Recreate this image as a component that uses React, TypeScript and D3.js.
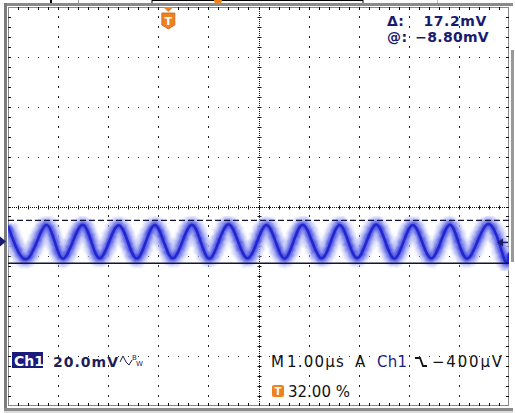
import React from 'react';
import * as d3 from 'd3';

const W = 515;
const H = 413;

// Waveform key points: time (µs from trigger), voltage (mV from ground)
const traceTimes = [-3.2, -2.8, -2.42, -2.1, -1.71, -1.37, -0.99, -0.63, -0.27, 0.09, 0.47, 0.82, 1.2, 1.58, 1.96, 2.32, 2.68, 3.06, 3.42, 3.77, 4.15, 4.51, 4.88, 5.25, 5.62, 5.96, 6.37, 6.7, 6.8];
const traceMv = [6.2, -6.8, 6.6, -6.9, 6.7, -6.8, 6.5, -6.9, 6.6, -6.8, 6.7, -6.9, 6.9, -6.8, 6.6, -6.9, 6.7, -6.8, 6.6, -6.7, 6.8, -6.9, 6.6, -6.8, 6.7, -6.9, 6.9, -6.8, -4.6];

// Cursor readouts (mV)
const cursorDelta = 17.2;
const cursorAt = -8.8;
const triggerLevelMv = -0.4;

// Time base / scale settings
const timeDomain = [-3.2, 6.8]; // µs, trigger at 32 %
const voltDomain = [-66, 94]; // mV, 20 mV/div, ground offset
const hDivs = 10;
const vDivs = 8;

const FONT = '"DejaVu Sans", Verdana, sans-serif';
const NAVY = '#1b1b6e';
const ORANGE = '#f0821e';

export default function App() {
  const left = 8, right = 509, top = 7, bottom = 406;
  const x = d3.scaleLinear().domain(timeDomain).range([left, right]);
  const y = d3.scaleLinear().domain(voltDomain).range([bottom, top]);
  const gx = d3.scaleLinear().domain([0, hDivs]).range([left, right]);
  const gy = d3.scaleLinear().domain([0, vDivs]).range([top, bottom]);

  const pts = traceTimes.map((t, i) => [t, traceMv[i]] as [number, number]);
  const path = d3.line<[number, number]>().x(d => x(d[0])).y(d => y(d[1])).curve(d3.curveNatural)(pts) || '';

  const dots: any[] = [];
  for (let i = 1; i < hDivs; i++) {
    if (i === hDivs / 2) continue;
    for (let j = 1; j < vDivs * 5; j++) {
      dots.push(<rect key={`v${i}-${j}`} x={Math.round(gx(i))} y={Math.round(gy(j / 5)) - 1} width={1} height={2} fill="#222" />);
    }
  }
  for (let j = 1; j < vDivs; j++) {
    if (j === vDivs / 2) continue;
    for (let i = 1; i < hDivs * 5; i++) {
      if (i % 5 === 0) continue;
      dots.push(<rect key={`h${j}-${i}`} x={Math.round(gx(i / 5))} y={Math.round(gy(j))} width={1} height={1} fill="#222" />);
    }
  }
  const ticks: any[] = [];
  const cx = Math.round(gx(hDivs / 2)) + 0.5;
  const cy = Math.round(gy(vDivs / 2)) + 0.5;
  for (let i = 1; i < hDivs * 5; i++) {
    const xx = Math.round(gx(i / 5)) + 0.5;
    ticks.push(<line key={`ct${i}`} x1={xx} x2={xx} y1={cy - 2} y2={cy + 2} stroke="#111" strokeWidth={1} />);
    ticks.push(<line key={`tt${i}`} x1={xx} x2={xx} y1={top} y2={top + 3} stroke="#111" strokeWidth={1} />);
    ticks.push(<line key={`bt${i}`} x1={xx} x2={xx} y1={bottom - 3} y2={bottom} stroke="#111" strokeWidth={1} />);
  }
  for (let j = 1; j < vDivs * 5; j++) {
    const yy = Math.round(gy(j / 5)) + 0.5;
    ticks.push(<line key={`cv${j}`} x1={cx - 2} x2={cx + 2} y1={yy} y2={yy} stroke="#111" strokeWidth={1} />);
    ticks.push(<line key={`lt${j}`} x1={left} x2={left + 3} y1={yy} y2={yy} stroke="#111" strokeWidth={1} />);
    ticks.push(<line key={`rt${j}`} x1={right - 3} x2={right} y1={yy} y2={yy} stroke="#111" strokeWidth={1} />);
  }

  const tx = x(0);
  const yDash = y(cursorAt + cursorDelta);
  const ySolid = y(cursorAt);
  const yGround = y(0);
  const yTrig = y(triggerLevelMv);

  return (
    <svg width={W} height={H} style={{ position: 'absolute', left: 0, top: 0, background: '#fff' }}>
      <defs>
        <filter id="fuzz" x="-5%" y="-20%" width="110%" height="140%">
          <feTurbulence type="fractalNoise" baseFrequency="0.9" numOctaves={2} seed={4} result="n" />
          <feDisplacementMap in="SourceGraphic" in2="n" scale={8} xChannelSelector="R" yChannelSelector="G" result="d" />
          <feGaussianBlur in="d" stdDeviation={0.8} />
        </filter>
        <clipPath id="plot"><rect x={left} y={top} width={right - left} height={bottom - top} /></clipPath>
      </defs>
      <rect x={0} y={0} width={W} height={H} fill="#fff" />

      {/* top strip (record view, cut off) */}
      <rect x={4} y={3} width={509} height={3} fill="#8a8a8a" />
      <rect x={50} y={0} width={2} height={3} fill="#000" />
      <rect x={78} y={0} width={1} height={3} fill="#999" />
      <path d="M152,0 V3 M152,0.5 H363 M363,0 V3" stroke="#000" strokeWidth={1} fill="none" />
      <circle cx={218} cy={0} r={4} fill={ORANGE} />
      <rect x={437} y={0} width={1} height={3} fill="#bbb" />

      {/* frame */}
      <rect x={4} y={3} width={3} height={408} fill="#7c7c7c" />
      <rect x={4} y={408} width={509} height={3} fill="#8a8a8a" />
      <rect x={4} y={411} width={509} height={2} fill="#dcdcdc" />
      <rect x={511} y={50} width={3} height={212} fill="#9a9a9a" />

      {/* graticule */}
      {dots}
      <rect x={left + 0.5} y={top + 0.5} width={right - left - 1} height={bottom - top - 1} fill="none" stroke="#111" strokeDasharray="1,1" />
      <line x1={left} x2={right} y1={cy} y2={cy} stroke="#111" strokeDasharray="1,1" />
      <line x1={cx} x2={cx} y1={top} y2={bottom} stroke="#111" strokeDasharray="1,1" />
      {ticks}

      {/* waveform */}
      <g clipPath="url(#plot)">
        <path d={path} fill="none" stroke="#c0c5f6" strokeWidth={17} filter="url(#fuzz)" opacity={0.8} />
        <path d={path} fill="none" stroke="#7c84ec" strokeWidth={10} filter="url(#fuzz)" opacity={0.8} />
        <path d={path} fill="none" stroke="#3b40de" strokeWidth={5} filter="url(#fuzz)" opacity={0.85} />
        <path d={path} fill="none" stroke="#2226cc" strokeWidth={2.4} />
      </g>

      {/* cursors */}
      <line x1={left} x2={right} y1={yDash} y2={yDash} stroke="#12123a" strokeWidth={1.3} strokeDasharray="6,3" />
      <line x1={left} x2={right} y1={ySolid} y2={ySolid} stroke="#12123a" strokeWidth={1.5} />

      {/* ground marker */}
      <path d={`M0,${yGround - 5} L6,${yGround} L0,${yGround + 5} Z`} fill={NAVY} />
      {/* trigger level marker */}
      <path d={`M497,${yTrig} L503,${yTrig - 4} L503,${yTrig + 4} Z`} fill={NAVY} />
      <line x1={502} x2={508} y1={yTrig} y2={yTrig} stroke={NAVY} strokeWidth={1.5} />

      {/* trigger position marker */}
      <path d={`M${tx - 5},7 L${tx + 5},7 L${tx},12 Z`} fill={ORANGE} />
      <path d={`M${tx - 6.5},13 H${tx + 6.5} V25 L${tx},29 L${tx - 6.5},25 Z`} fill={ORANGE} stroke="#c8621a" strokeWidth={0.8} />
      <text x={tx} y={25} textAnchor="middle" fontFamily={FONT} fontWeight="bold" fontSize={11} fill="#fff">T</text>

      {/* cursor readouts */}
      <g fontFamily={FONT} fontWeight="bold" fontSize={14} fill={NAVY}>
        <text x={387} y={26} letterSpacing={0.5}>Δ:</text>
        <text x={487} y={26} textAnchor="end" letterSpacing={0.6}>{`${cursorDelta.toFixed(1)}mV`}</text>
        <text x={387} y={42} letterSpacing={0.5}>@:</text>
        <text x={489} y={42} textAnchor="end" letterSpacing={0.3}>{`−${Math.abs(cursorAt).toFixed(2)}mV`}</text>
      </g>

      {/* channel readout */}
      <rect x={12} y={352} width={31} height={16} fill="#1a1a7a" />
      <text x={14} y={366} fontFamily={FONT} fontWeight="bold" fontSize={14} fill="#fff">Ch1</text>
      <text x={53} y={367} fontFamily={FONT} fontWeight="bold" fontSize={14} letterSpacing={1} fill="#1e1e5a">20.0mV</text>
      <path d="M120,362 L123,356 L126,362 L129,365 L132,360" fill="none" stroke="#1e1e5a" strokeWidth={1} />
      <text x={132} y={360} fontFamily={FONT} fontSize={7} fill="#1e1e5a">B</text>
      <text x={136} y={366} fontFamily={FONT} fontSize={7} fill="#1e1e5a">W</text>

      {/* timebase / trigger readout */}
      <g fontFamily={FONT} fontSize={15} letterSpacing={1.2} fill="#111">
        <text x={271} y={367} letterSpacing={0}>M</text>
        <text x={287} y={367}>1.00µs</text>
        <text x={355} y={367}>A</text>
        <text x={377} y={367} fill="#1e1e80" letterSpacing={0.3}>Ch1</text>
        <text x={432} y={367} letterSpacing={1.8}>−400µV</text>
      </g>
      <path d="M415,358 H420 L423,366 H427" fill="none" stroke="#111" strokeWidth={1.8} />

      <rect x={272} y={385} width={12} height={12} rx={2} fill={ORANGE} />
      <text x={278} y={395} textAnchor="middle" fontFamily={FONT} fontWeight="bold" fontSize={10} fill="#fff">T</text>
      <text x={288} y={397} fontFamily={FONT} fontSize={15} fill="#111">32.00 %</text>
    </svg>
  );
}
